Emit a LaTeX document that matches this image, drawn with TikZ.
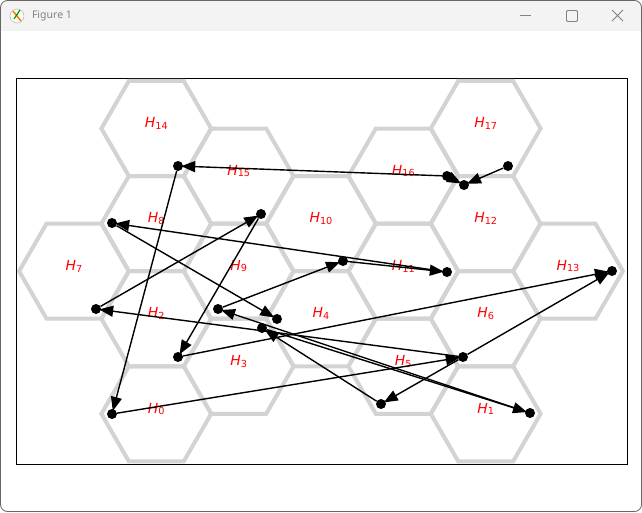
\documentclass[tikz,border=0pt]{standalone}
\usepackage{fontspec}
\setmainfont{DejaVu Sans}
\newfontfamily\titlefont{Noto Sans}
\usetikzlibrary{arrows.meta}

\definecolor{hexgray}{RGB}{211,211,211}
\definecolor{winbar}{RGB}{243,243,243}
\definecolor{wintext}{RGB}{130,130,130}
\definecolor{labred}{RGB}{255,0,0}

\newcommand{\hlab}[1]{\textit{H}\raisebox{-1.6pt}{\fontsize{9.7}{10}\selectfont #1}}

\tikzset{
  hexline/.style={draw=hexgray, line width=4pt, line join=miter},
  hexlab/.style={text=labred, font=\fontsize{13.9}{14}\selectfont, inner sep=0pt},
  dot/.style={circle, fill=black, inner sep=0pt, minimum size=10pt},
  move/.style={-{Triangle[length=14pt,width=11pt]}, line width=1.4pt, shorten >=-2pt},
  ctrl/.style={draw=wintext, line width=0.8pt},
}

\begin{document}
\begin{tikzpicture}[x=1pt,y=-1pt]
  \useasboundingbox (0,0) rectangle (642,512);

  % window
  \fill[white, rounded corners=7pt] (0.5,0.5) rectangle (641.5,511.5);
  \begin{scope}
    \clip[rounded corners=7pt] (0.5,0.5) rectangle (641.5,511.5);
    \fill[winbar] (0,0) rectangle (642,30.5);
  \end{scope}
  \draw[gray!80!black, line width=0.8pt, rounded corners=7pt] (0.5,0.5) rectangle (641.5,511.5);
  \draw[gray!60, line width=0.5pt, fill=white] (17,16) circle (7);
  \draw[orange, line width=1.6pt] (13,11) -- (21,21);
  \draw[green!60!black, line width=1.2pt] (20,10) -- (14,19);
  \node[anchor=west, text=wintext, font=\titlefont\fontsize{10.5}{12}\selectfont] (title) at (28.5,16) {Figure 1};
  \draw[ctrl] (520,15.5) -- (531,15.5);
  \draw[ctrl, rounded corners=1pt] (566.5,10.5) rectangle (577.5,21.5);
  \draw[ctrl] (612,10) -- (623,21) (612,21) -- (623,10);

  % axes
  \draw[line width=0.8pt] (16,78) rectangle (627,464);

  % hexagons and their labels
  \foreach \n/\x/\y in {0/156.3/413.8, 1/485.7/413.8, 2/156.3/318.7, 3/238.7/366.25,
      4/321/318.7, 5/403.3/366.25, 6/485.7/318.7, 7/74/271.15, 8/156.3/223.6,
      9/238.7/271.15, 10/321/223.6, 11/403.3/271.15, 12/485.7/223.6, 13/568/271.15,
      14/156.3/128.5, 15/238.7/176.05, 16/403.3/176.05, 17/485.7/128.5} {
    \draw[hexline] (\x,\y) +(0:54.9) -- +(60:54.9) -- +(120:54.9) -- +(180:54.9)
      -- +(240:54.9) -- +(300:54.9) -- cycle;
    \node[hexlab] (h\n) at (\x,\y-5) {\hlab{\n}};
  }

  % points
  \node[dot] (a) at (178,166) {};
  \node[dot] (b) at (447,176) {};
  \node[dot] (c) at (464,185) {};
  \node[dot] (d) at (508,166) {};
  \node[dot] (e) at (112,223) {};
  \node[dot] (f) at (261,214) {};
  \node[dot] (g) at (343,261) {};
  \node[dot] (h) at (447,272) {};
  \node[dot] (i) at (612,271) {};
  \node[dot] (j) at (96,309) {};
  \node[dot] (k) at (218,309) {};
  \node[dot] (l) at (277,319) {};
  \node[dot] (m) at (262,328) {};
  \node[dot] (n) at (178,357) {};
  \node[dot] (o) at (463,357) {};
  \node[dot] (p) at (381,404) {};
  \node[dot] (q) at (530,413) {};
  \node[dot] (r) at (112,414) {};

  % moves
  \draw[move] (b) -- (a);
  \draw[move] (a) -- (r);
  \draw[move] (d) -- (c);
  \draw[move] (b) -- (c);
  \draw[move] (h) -- (e);
  \draw[move] (g) -- (h);
  \draw[move] (j) -- (f);
  \draw[move] (f) -- (n);
  \draw[move] (e) -- (l);
  \draw[move] (k) -- (g);
  \draw[move] (o) -- (j);
  \draw[move] (q) -- (k);
  \draw[move] (m) -- (q);
  \draw[move] (n) -- (i);
  \draw[move] (o) -- (i);
  \draw[move] (r) -- (o);
  \draw[move] (p) -- (m);
  \draw[move] (o) -- (p);
\end{tikzpicture}
\end{document}
